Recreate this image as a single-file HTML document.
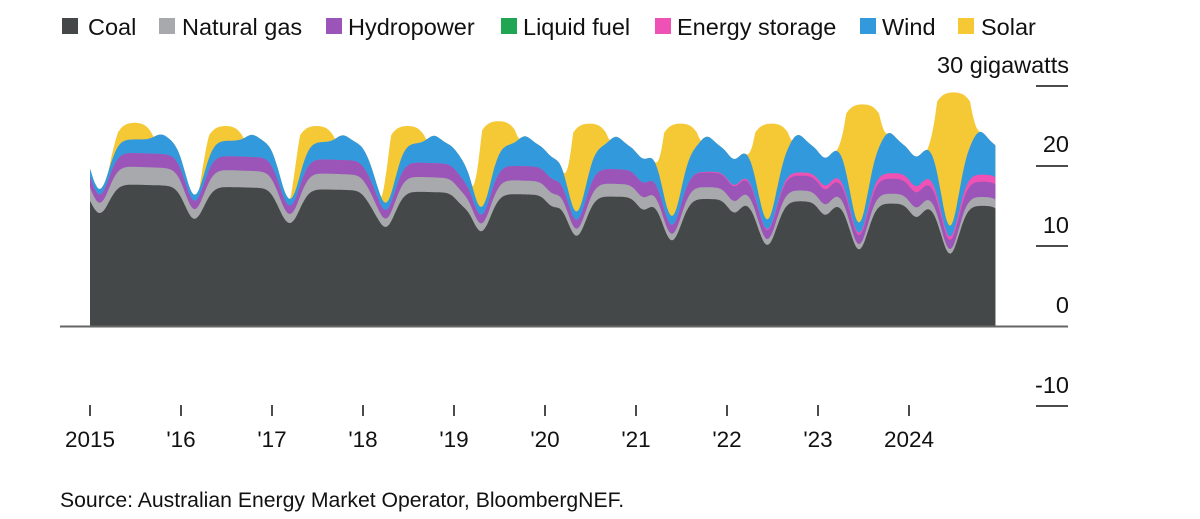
<!DOCTYPE html>
<html><head><meta charset="utf-8">
<style>
body{margin:0;background:#fff;font-family:"Liberation Sans",Arial,sans-serif;}
svg text{font-family:"Liberation Sans",Arial,sans-serif;fill:#111;}
</style></head>
<body>
<svg id="c" width="1200" height="514" viewBox="0 0 1200 514" xmlns="http://www.w3.org/2000/svg">
<g font-size="23.5">
<rect x="62" y="18" width="16" height="16" fill="#444848"/><text x="88" y="35">Coal</text>
<rect x="159" y="18" width="16" height="16" fill="#a7a9ac"/><text x="182" y="35">Natural gas</text>
<rect x="326" y="18" width="16" height="16" fill="#9b55b8"/><text x="348" y="35">Hydropower</text>
<rect x="501" y="18" width="16" height="16" fill="#20a653"/><text x="523" y="35">Liquid fuel</text>
<rect x="655" y="18" width="16" height="16" fill="#ee52b4"/><text x="677" y="35">Energy storage</text>
<rect x="860" y="18" width="16" height="16" fill="#3399dd"/><text x="882" y="35">Wind</text>
<rect x="958" y="18" width="16" height="16" fill="#f5c936"/><text x="981" y="35">Solar</text>
</g>
<g id="areas"></g>
<line x1="60" y1="326.5" x2="1068" y2="326.5" stroke="#666" stroke-width="2"/>
<g stroke="#111" stroke-width="1.5">
<line x1="1036" y1="86" x2="1068" y2="86"/>
<line x1="1036" y1="166" x2="1068" y2="166"/>
<line x1="1036" y1="246" x2="1068" y2="246"/>
<line x1="1036" y1="406" x2="1068" y2="406"/>
</g>
<g font-size="23.5" text-anchor="end">
<text x="1069" y="73">30 gigawatts</text>
<text x="1069" y="152">20</text>
<text x="1069" y="233">10</text>
<text x="1069" y="313">0</text>
<text x="1069" y="393">-10</text>
</g>
<g id="xt" stroke="#111" stroke-width="1.5"></g>
<g font-size="22.5" text-anchor="middle">
<text x="90" y="447">2015</text><text x="181" y="447">'16</text><text x="272" y="447">'17</text>
<text x="363" y="447">'18</text><text x="454" y="447">'19</text><text x="545" y="447">'20</text>
<text x="636" y="447">'21</text><text x="727" y="447">'22</text><text x="818" y="447">'23</text>
<text x="909" y="447">2024</text>
</g>
<text x="60" y="507" font-size="21.2" fill="#333">Source: Australian Energy Market Operator, BloombergNEF.</text>
</svg>
<script>
(function(){
var NS="http://www.w3.org/2000/svg";
var xt=document.getElementById('xt');
for(var i=0;i<10;i++){var l=document.createElementNS(NS,'line');var x=90+91*i;l.setAttribute('x1',x);l.setAttribute('x2',x);l.setAttribute('y1',405);l.setAttribute('y2',416);xt.appendChild(l);}
function lerp(a,b,u){return a+(b-a)*u;}
function interp(arr,t){var i=Math.floor(t);if(i<0)return arr[0];if(i>=arr.length-1)return arr[arr.length-1];return lerp(arr[i],arr[i+1],t-i);}
function pd(f,c,w){var d=f-c;d=d-Math.round(d);return Math.exp(-(d/w)*(d/w));}
var ptop=[25.4,25,25,25,25.6,25.3,25.3,25.3,27.7,29.2];
var T=9.95,N=995,layers=[[],[],[],[],[],[]];
for(var k=0;k<=N;k++){
 var t=T*k/N,f=t-Math.floor(t),u=t/9.9;
 var c=0.1+0.35*Math.min(1,u*1.3),depth=lerp(3.6,6.2,u);
 var dip=pd(f,c,0.14);
 var dip2=pd(f,0.08,0.1)*Math.min(1,u*1.5)*1.6;
 var coal=lerp(17.8,15,u)-depth*dip-dip2;
 var gas=lerp(2,1.1,u)*(1-0.5*dip)+0.3*(1-u);
 var hyd=lerp(1.7,1.9,u)*(1-0.4*dip);
 var sto=t<6.5?0:Math.min(0.9,(t-6.5)*0.3)*(1-0.5*dip);
 var wind=lerp(1.3,3.6,u)*(1-0.7*dip)+0.3+lerp(0.6,1.5,u)*pd(f,0.78,0.1);
 var rest=coal+gas+hyd+sto+wind;
 var b=0;if(f>0.2&&f<0.78){b=Math.sin(Math.PI*(f-0.2)/0.58);}
 var s=Math.min(1,b*1.8);
 var P=interp(ptop,Math.floor(t))-3.2*(1-b)*(1-b)-1.2*(1-b);
 var sol=Math.max(0,P-rest)*s;
 var vals=[coal,gas,hyd,sto,wind,sol],cum=0;
 for(var j=0;j<6;j++){cum+=vals[j];layers[j].push([90+91*t,326-8*cum]);}
}
var cols=['#444848','#a7a9ac','#9b55b8','#ee52b4','#3399dd','#f5c936'];
var g=document.getElementById('areas');
for(var j=5;j>=0;j--){
 var p=layers[j],d='M90,326';
 for(var k=0;k<p.length;k++)d+='L'+p[k][0].toFixed(1)+','+p[k][1].toFixed(1);
 d+='L'+p[p.length-1][0].toFixed(1)+',326Z';
 var e=document.createElementNS(NS,'path');e.setAttribute('d',d);e.setAttribute('fill',cols[j]);g.appendChild(e);
}
})();
</script>
</body></html>
